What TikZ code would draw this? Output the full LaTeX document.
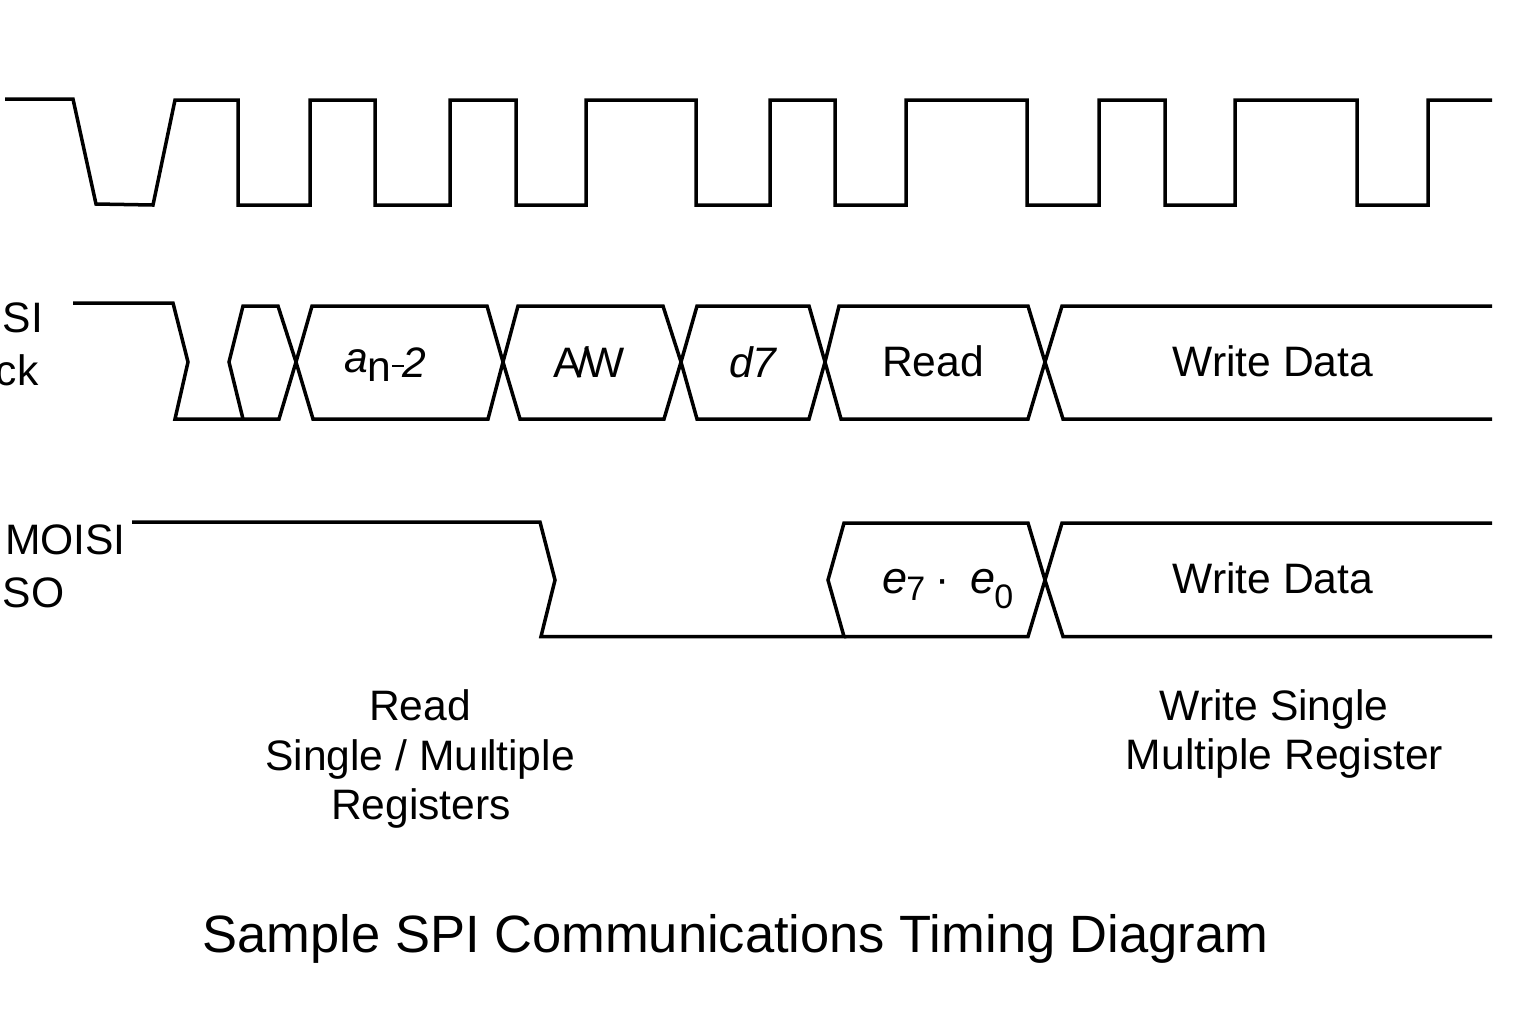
\documentclass[tikz,border=0pt]{standalone}
\usepackage{fontspec}
\setmainfont{Liberation Sans}
\newcommand{\lbl}{\fontsize{21.3}{25}\selectfont}
\tikzset{
  wave/.style={line width=1.75pt,line join=miter,black},
  txt/.style={inner sep=0pt,outer sep=0pt,font=\lbl,anchor=base},
  txtw/.style={inner sep=0pt,outer sep=0pt,font=\lbl,anchor=base west}
}
\begin{document}
\begin{tikzpicture}[x=0.5pt,y=-0.5pt]
\useasboundingbox (0,0) rectangle (1536,1024);
\fill[white] (0,0) rectangle (1536,1024);
% clock
\draw[wave] (5,99)--(73,99)--(96,204)--(153,205)--(175,100)--(238,100)--(238,205)--(310,205)--(310,100)--(375,100)--(375,205)--(450,205)--(450,100)--(516,100)--(516,205)--(586,205)--(586,100)--(696,100)--(696,205)--(770,205)--(770,100)--(835,100)--(835,205)--(906,205)--(906,100)--(1027,100)--(1027,205)--(1099,205)--(1099,100)--(1165,100)--(1165,205)--(1235,205)--(1235,100)--(1357,100)--(1357,205)--(1428,205)--(1428,100)--(1492,100);
% row 2
\draw[wave] (73,303)--(173,303)--(188,362)--(175,419)--(279,419)--(296,362)--(312,306)--(487,306)--(503,362)--(520,419)--(664,419)--(681,362)--(697,306)--(809,306)--(825,362)--(841,419)--(1028,419)--(1045,362)--(1062,306)--(1492,306);
\draw[wave] (243,419)--(229,362)--(243,306)--(278,306)--(296,362)--(313,419)--(488,419)--(503,362)--(518,306)--(663,306)--(681,362)--(697,419)--(809,419)--(825,362)--(839,306)--(1028,306)--(1045,362)--(1063,419)--(1492,419);
% row 3
\draw[wave] (132,522)--(540,522)--(555,580)--(541,636.5)--(844,636.5)--(828,580)--(844,523)--(1028,523)--(1045,580)--(1063,636.5)--(1492,636.5);
\draw[wave] (844,636.5)--(1028,636.5)--(1045,580)--(1062,523)--(1492,523);
% labels
\node[txtw] (si) at (3,332) {SI};
\node[txtw] (ck) at (-4,385) {ck};
\node[txtw] (mo) at (5,554) {MOISI};
\node[txtw] (so) at (3,607) {SO};
\node[txtw] (an) at (344,372) {\textit{a}\raisebox{-4.5pt}{n}\raisebox{-2.5pt}{\kern0.4pt\rule[5.2pt]{6pt}{1pt}\kern-0.6pt\textit{2}}};
\node[txt] (aw) at (589,377) {A\kern-2pt/\kern-2.5pt W};
\node[txt] (d7) at (753.5,377) {\textit{d7}};
\node[txt] (rd) at (933,376.5) {Read};
\node[txt] (wd1) at (1273,376.5) {Write Data};
\node[txtw,font=\fontsize{22.5}{25}\selectfont] (e7) at (882,593) {\textit{e}\kern-0.3pt\raisebox{-3.5pt}{\fontsize{17}{18}\selectfont 7}};
\node[txt] (dot) at (943,593) {·};
\node[txtw,font=\fontsize{22.5}{25}\selectfont] (e0) at (970,593) {\textit{e}\kern-0.3pt\raisebox{-7.5pt}{\fontsize{17}{18}\selectfont 0}};
\node[txt] (wd2) at (1273,593.5) {Write Data};
\node[txt] (r1) at (420,720) {Read};
\node[txt] (r2) at (420,770) {Single / Muı\kern-1.5pt ltiple};
\node[txt] (r3) at (421,819) {Registers};
\node[txt] (w1) at (1274,720) {Write Single};
\node[txt] (w2) at (1284.5,769) {Multiple Register};
\node[txt,font=\fontsize{26.25}{30}\selectfont] (title) at (735.5,952) {Sample SPI Communications Timing Diagram};
\end{tikzpicture}
\end{document}
